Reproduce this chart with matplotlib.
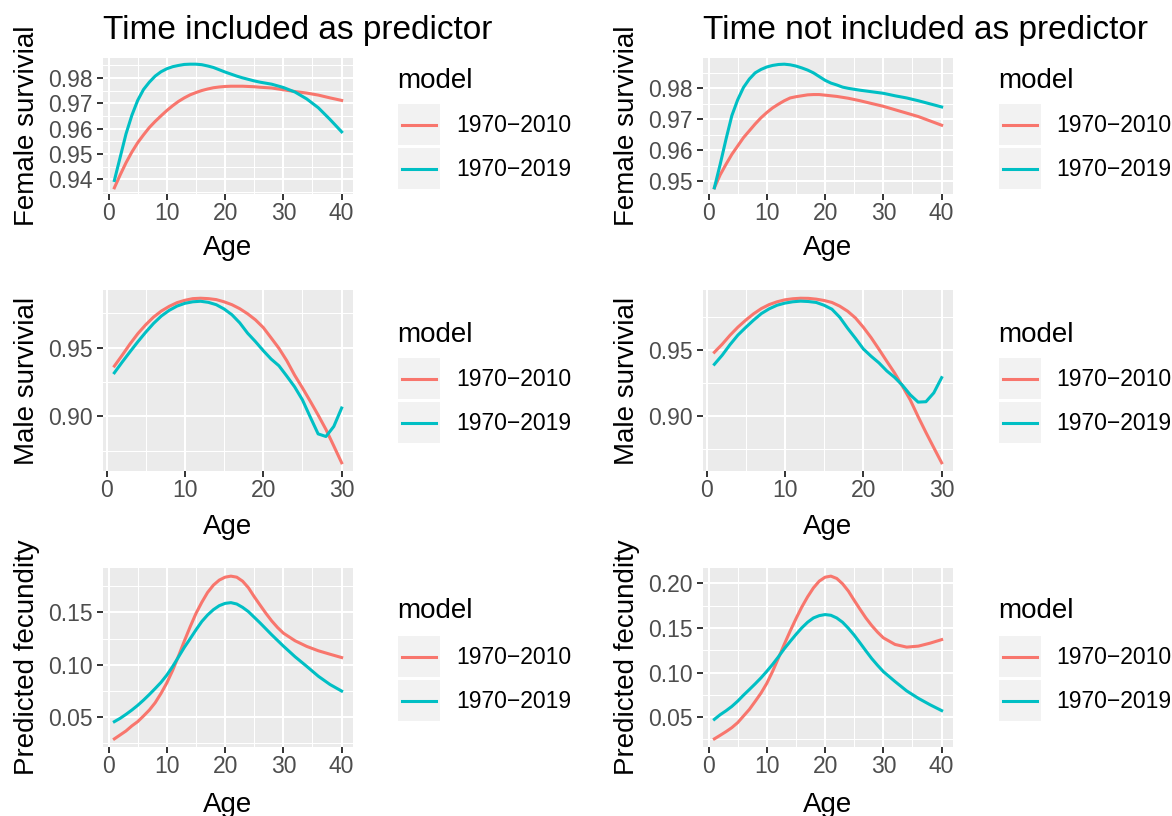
import matplotlib
matplotlib.use("Agg")
import matplotlib.pyplot as plt
from matplotlib.patches import Rectangle
from matplotlib.lines import Line2D
from matplotlib.legend_handler import HandlerBase
from matplotlib.ticker import MultipleLocator, FormatStrFormatter

plt.rcParams['font.family'] = ['Liberation Sans', 'DejaVu Sans']

RED = '#F8766D'
CYAN = '#00BFC4'
FW, FH = 1172, 816
LW = 2.2

# ages used for the prediction curves
age_f = list(range(1, 27)) + [28, 30, 32, 34, 36, 38, 40]
age_m = list(range(1, 31))
age_fec = list(range(1, 31)) + [32, 34, 36, 38, 40]

# female survival, time included
fem_t_2010 = [.9367, .9418, .9466, .9508, .9545, .9576, .9605, .9629, .9651, .9672, .9691, .9708,
              .9722, .9734, .9743, .9751, .9757, .9762, .9765, .9767, .9768, .9768, .9768, .9767,
              .9766, .9764, .9761, .9754, .9747, .9741, .9733, .9722, .9712]
fem_t_2019 = [.9396, .9488, .9580, .9653, .9712, .9755, .9784, .9808, .9825, .9837, .9845, .9850,
              .9854, .9855, .9855, .9853, .9848, .9842, .9833, .9824, .9816, .9808, .9801, .9795,
              .9789, .9784, .9776, .9763, .9745, .9718, .9683, .9637, .9588]
# female survival, time not included
fem_n_2010 = [.9479, .9521, .9555, .9587, .9614, .9641, .9663, .9685, .9705, .9722, .9737, .9749,
              .9760, .9769, .9773, .9776, .9779, .9780, .9780, .9778, .9776, .9774, .9771, .9768,
              .9764, .9760, .9751, .9742, .9731, .9720, .9709, .9695, .9681]
fem_n_2019 = [.9479, .9555, .9636, .9712, .9763, .9803, .9830, .9850, .9861, .9869, .9874, .9877,
              .9878, .9876, .9872, .9866, .9859, .9850, .9838, .9826, .9817, .9811, .9804, .9800,
              .9797, .9794, .9789, .9784, .9776, .9769, .9760, .9750, .9740]

# male survival, time included
mal_t_2010 = [.9366, .9445, .9527, .9602, .9666, .9722, .9766, .9800, .9827, .9844, .9856, .9859,
              .9856, .9849, .9833, .9812, .9783, .9746, .9702, .9646, .9571, .9495, .9405, .9300,
              .9207, .9110, .9010, .8905, .8785, .8663]
mal_t_2019 = [.9317, .9395, .9470, .9543, .9612, .9676, .9730, .9771, .9802, .9822, .9833, .9837,
              .9829, .9812, .9781, .9739, .9680, .9605, .9544, .9478, .9417, .9368, .9293, .9215,
              .9120, .8995, .8873, .8854, .8927, .9061]
# male survival, time not included
mal_n_2010 = [.9482, .9543, .9611, .9672, .9725, .9773, .9813, .9843, .9864, .9879, .9887, .9891,
              .9890, .9884, .9874, .9859, .9831, .9793, .9742, .9672, .9593, .9505, .9414, .9325,
              .9225, .9121, .8995, .8875, .8760, .8646]
mal_n_2019 = [.9391, .9460, .9540, .9612, .9670, .9725, .9775, .9811, .9838, .9854, .9864, .9869,
              .9866, .9859, .9838, .9808, .9747, .9664, .9588, .9508, .9452, .9402, .9341, .9292,
              .9232, .9160, .9105, .9108, .9175, .9290]

# predicted fecundity, time included
fec_t_2010 = [.0289, .0327, .0365, .0413, .0454, .0508, .0565, .0635, .0724, .0825, .0945, .1082,
              .1225, .1362, .1490, .1597, .1692, .1762, .1810, .1838, .1848, .1838, .1800, .1737,
              .1651, .1571, .1492, .1419, .1356, .1302, .1229, .1175, .1133, .1100, .1068]
fec_t_2019 = [.0454, .0486, .0524, .0565, .0610, .0660, .0714, .0771, .0830, .0900, .0982, .1073,
              .1165, .1248, .1333, .1413, .1476, .1527, .1565, .1587, .1594, .1581, .1549, .1508,
              .1454, .1400, .1343, .1286, .1232, .1178, .1076, .0984, .0889, .0810, .0747]
# predicted fecundity, time not included
fec_n_2010 = [.0257, .0297, .0338, .0383, .0439, .0513, .0587, .0677, .0770, .0880, .1015, .1164,
              .1318, .1465, .1604, .1735, .1850, .1950, .2026, .2070, .2082, .2056, .1996, .1914,
              .1810, .1710, .1613, .1528, .1454, .1390, .1316, .1286, .1297, .1330, .1370]
fec_n_2019 = [.0476, .0528, .0572, .0621, .0680, .0747, .0810, .0874, .0941, .1015, .1093, .1178,
              .1268, .1349, .1428, .1502, .1565, .1613, .1639, .1651, .1643, .1613, .1565, .1497,
              .1420, .1333, .1244, .1158, .1082, .1011, .0900, .0795, .0712, .0640, .0574]

titles = ["Time included as predictor", "Time not included as predictor"]
models = ["1970\u22122010", "1970\u22122019"]

panels = [
    (0, 0, age_f, fem_t_2010, fem_t_2019, "Female survivial", 0.01),
    (0, 1, age_f, fem_n_2010, fem_n_2019, "Female survivial", 0.01),
    (1, 0, age_m, mal_t_2010, mal_t_2019, "Male survivial", 0.05),
    (1, 1, age_m, mal_n_2010, mal_n_2019, "Male survivial", 0.05),
    (2, 0, age_fec, fec_t_2010, fec_t_2019, "Predicted fecundity", 0.05),
    (2, 1, age_fec, fec_n_2010, fec_n_2019, "Predicted fecundity", 0.05),
]

# layout in pixels
col_left = [103, 703]
col_w = 250
rows = [(58, 194), (290, 471), (568, 747)]
xlab_off = [41, 43, 45]
leg_x = [398, 999]
leg_top = [104, 358, 636]
model_base = [88, 342, 618]


class KeyHandler(HandlerBase):
    # grey key box with the line centred in it, like ggplot
    def create_artists(self, legend, orig_handle, xdescent, ydescent,
                       width, height, fontsize, trans):
        bg = Rectangle((-xdescent, -ydescent), width, height,
                       facecolor='#F2F2F2', edgecolor='none', transform=trans)
        yc = -ydescent + height / 2
        ln = Line2D([-xdescent + 0.1 * width, -xdescent + 0.9 * width], [yc, yc],
                    color=orig_handle.get_color(), lw=LW, transform=trans)
        return [bg, ln]


fig = plt.figure(figsize=(FW / 100, FH / 100), dpi=100)


def expand(lo, hi, f=0.05):
    r = hi - lo
    return lo - f * r, hi + f * r


for r, c, ages, y1, y2, ylab, ystep in panels:
    top, bot = rows[r]
    h = bot - top
    ax = fig.add_axes([col_left[c] / FW, 1 - bot / FH, col_w / FW, h / FH])
    ax.set_facecolor('#EBEBEB')
    for s in ax.spines.values():
        s.set_visible(False)

    l1, = ax.plot(ages, y1, color=RED, lw=LW, zorder=3)
    l2, = ax.plot(ages, y2, color=CYAN, lw=LW, zorder=3)

    ax.set_xlim(*expand(min(ages), max(ages)))
    ax.set_ylim(*expand(min(y1 + y2), max(y1 + y2)))

    ax.xaxis.set_major_locator(MultipleLocator(10))
    ax.xaxis.set_minor_locator(MultipleLocator(5))
    ax.yaxis.set_major_locator(MultipleLocator(ystep))
    ax.yaxis.set_minor_locator(MultipleLocator(ystep / 2))
    ax.yaxis.set_major_formatter(FormatStrFormatter('%.2f'))

    ax.grid(which='major', color='white', lw=1.5, zorder=0)
    ax.grid(which='minor', color='white', lw=0.75, zorder=0)
    ax.set_axisbelow(True)

    ax.tick_params(which='major', length=4.5, width=1.4, color='#333333',
                   labelcolor='#4D4D4D', labelsize=16.5)
    ax.tick_params(axis='x', which='major', pad=1.5)
    ax.tick_params(axis='y', which='major', pad=3)
    ax.tick_params(which='minor', length=0)

    ax.set_xlabel("Age", fontsize=20)
    ax.set_ylabel(ylab, fontsize=20)
    ax.xaxis.set_label_coords(0.5, -xlab_off[r] / h)
    ax.yaxis.set_label_coords(-63 / col_w, 0.5)

    ax.legend([l1, l2], models, loc='upper left',
              bbox_to_anchor=(leg_x[c] / FW, 1 - leg_top[r] / FH),
              bbox_transform=fig.transFigure, frameon=False, borderpad=0,
              borderaxespad=0, handlelength=1.83, handleheight=2.38,
              labelspacing=0.13, handletextpad=0.69, fontsize=16.5,
              handler_map={Line2D: KeyHandler()})
    fig.text((leg_x[c] - 1) / FW, 1 - model_base[r] / FH, "model",
             fontsize=20, va='baseline', ha='left')

    if r == 0:
        fig.text(col_left[c] / FW, 1 - 39 / FH, titles[c], fontsize=24,
                 va='baseline', ha='left')

fig.savefig("out.png", dpi=100)
